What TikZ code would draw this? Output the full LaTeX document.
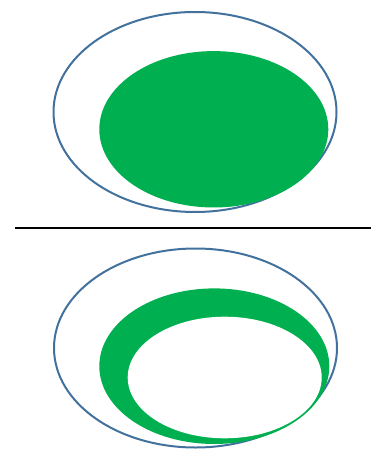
\documentclass[tikz,border=0pt]{standalone}
\definecolor{rimblue}{HTML}{41719C}
\definecolor{fillgreen}{HTML}{00B050}
\tikzset{
  rim/.style={draw=rimblue, line width=2pt},
  blob/.style={fill=fillgreen, draw=none},
  hole/.style={fill=white, draw=none},
  divider/.style={draw=black, line width=2.4pt}
}
\begin{document}
\begin{tikzpicture}[x=1pt,y=-1pt]
\useasboundingbox (0,0) rectangle (371,449);
% top
\path[rim] (195,112) ellipse [x radius=141.5, y radius=100];
\path[blob] (213.8,129.3) ellipse [x radius=114.5, y radius=78.2];
% divider
\path[divider] (15,228) -- (371,228);
% bottom
\path[rim] (195.5,348) ellipse [x radius=141.5, y radius=99.5];
\path[blob] (214.3,366.2) ellipse [x radius=115, y radius=77.8];
\path[hole] (224.7,377.5) ellipse [x radius=97, y radius=60.8];
\end{tikzpicture}
\end{document}
